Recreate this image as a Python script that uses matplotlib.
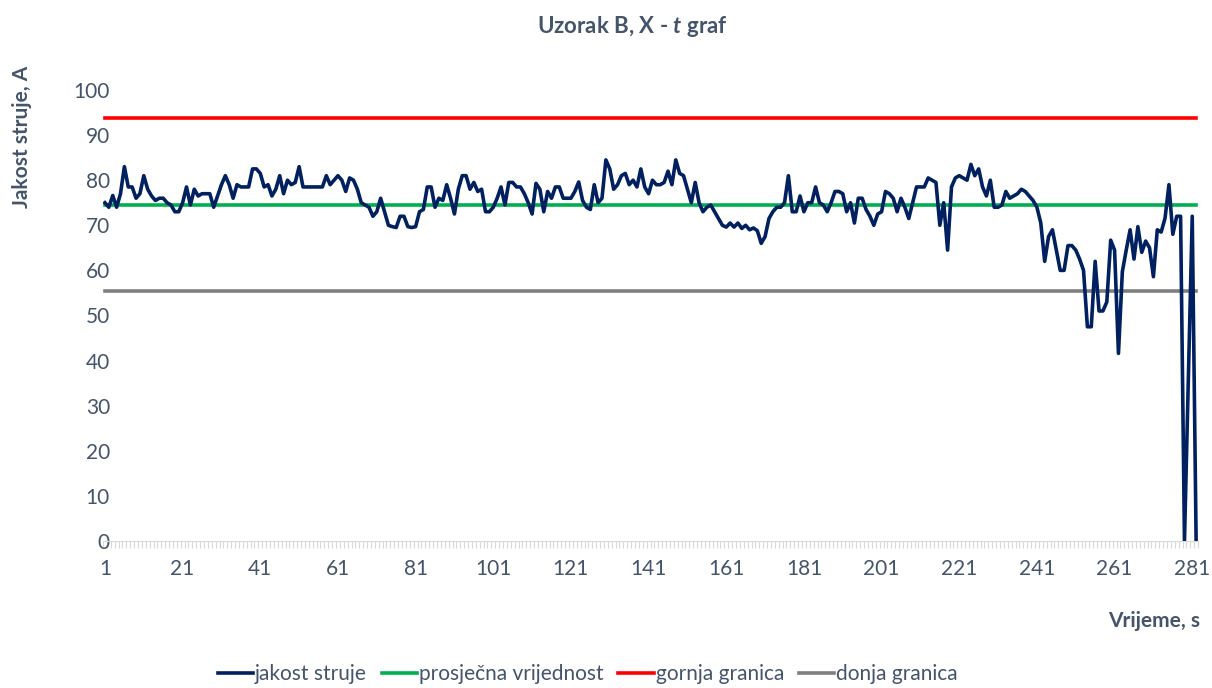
import matplotlib
matplotlib.use("Agg")
import matplotlib.pyplot as plt
from matplotlib.ticker import FixedLocator

# --- podaci ---
jakost_struje = [
    75, 74, 76.6, 74, 77, 83, 78.5, 78.5, 76, 77, 81, 78, 76.5, 75.5, 76, 76, 75, 74.5, 73, 73,
    75, 78.5, 74.5, 78, 76.5, 77, 77, 77, 74, 76.5, 79, 81, 79, 76, 79, 78.5, 78.5, 78.5, 82.5, 82.5,
    81.5, 78.5, 79, 76.5, 78, 81, 77, 80, 79, 79.5, 83, 78.5, 78.5, 78.5, 78.5, 78.5, 78.5, 81, 79, 80,
    81, 80, 77.5, 80.5, 80, 78, 75, 74.5, 74, 72, 73, 76, 73, 70, 69.7, 69.5, 72, 72, 69.7, 69.5,
    69.7, 73, 73.5, 78.5, 78.5, 74, 76, 75.5, 79, 76, 72.5, 78, 81, 81, 78, 79.5, 77.5, 78, 73, 73,
    74, 76, 78.5, 74.5, 79.5, 79.5, 78.5, 78.5, 77, 75, 72.5, 79.3, 78, 73, 77.5, 76, 78.5, 78.5, 76, 76,
    76, 77.5, 79.6, 75.5, 74, 73.5, 79, 75, 76, 84.5, 82.5, 78, 79, 81, 81.5, 79, 80, 78.5, 82.5, 78.5,
    77, 80, 79, 79, 79.5, 82, 79, 84.5, 81.5, 81, 78, 75, 79.5, 75, 73, 74, 74.5, 73, 71.5, 70,
    69.6, 70.5, 69.6, 70.5, 69.3, 70, 69, 69.4, 68.8, 66, 67.5, 71.5, 73, 74, 74, 75, 81, 73, 73, 76.5,
    73, 75, 75, 78.5, 75, 74.5, 73, 75, 77.5, 77.5, 77, 73, 75, 70.5, 76, 76, 73.5, 72, 70, 72.5,
    73, 77.5, 77, 76, 73, 76, 74, 71.5, 75, 78.5, 78.5, 78.5, 80.5, 80, 79.5, 70, 75, 64.5, 78.5, 80.5,
    81, 80.5, 80, 83.5, 81, 82.5, 78.5, 76.5, 80, 74, 74, 74.5, 77.5, 76, 76.5, 77, 78, 77.5, 76.5, 75.5,
    74, 70.5, 62, 67.5, 69, 64.5, 60, 60, 65.5, 65.5, 64.5, 62.5, 60, 47.5, 47.5, 62, 51, 51, 53, 66.7,
    64.5, 41.6, 59.7, 64.5, 69, 62.5, 69.7, 64, 66.5, 65, 58.6, 69, 68.5, 71.6, 79, 68, 72, 72, 0, 36,
    72, 0,
]
prosjek = 74.6
gornja_granica = 93.7
donja_granica = 55.5
vrijeme = list(range(1, len(jakost_struje) + 1))
y_ticks = list(range(0, 101, 10))
x_labels = list(range(1, len(jakost_struje) + 1, 20))

txt = "#44546A"
plt.rcParams["font.family"] = ["Lato", "DejaVu Sans"]
plt.rcParams["mathtext.fontset"] = "custom"
plt.rcParams["mathtext.it"] = "Lato:italic:bold"

fig = plt.figure(figsize=(12.12, 6.88), dpi=100)
ax = fig.add_axes([0.085, 0.2137, 0.9035, 0.6555])

n = len(vrijeme)
ax.plot(vrijeme, jakost_struje, color="#002060", lw=2.6, label="jakost struje", zorder=4)
ax.plot(vrijeme, [prosjek] * n, color="#00B050", lw=2.6, label="prosječna vrijednost", zorder=3)
ax.plot(vrijeme, [gornja_granica] * n, color="#FF0000", lw=2.6, label="gornja granica", zorder=3)
ax.plot(vrijeme, [donja_granica] * n, color="#7F7F7F", lw=2.6, label="donja granica", zorder=3)

ax.set_xlim(0.5, n + 0.5)
ax.set_ylim(0, 100)
ax.set_yticks(y_ticks)
ax.set_xticks(x_labels)
ax.xaxis.set_minor_locator(FixedLocator([i + 0.5 for i in range(0, n + 1)]))

for s in ["top", "right", "left"]:
    ax.spines[s].set_visible(False)
ax.spines["bottom"].set_color("#D9D9D9")
ax.tick_params(axis="y", length=0, labelsize=15, labelcolor=txt, pad=-5)
ax.tick_params(axis="x", which="major", length=0, labelsize=15, labelcolor=txt, pad=13)
ax.tick_params(axis="x", which="minor", length=5, color="#D9D9D9", width=0.8)

fig.text(0.522, 0.962, r"Uzorak B, X - $\mathit{t}$ graf", ha="center", va="center",
         fontsize=16, fontweight="bold", color=txt)
fig.text(0.018, 0.905, "Jakost struje, A", rotation=90, ha="center", va="top",
         fontsize=15, fontweight="bold", color=txt)
fig.text(0.99, 0.098, "Vrijeme, s", ha="right", va="center",
         fontsize=15, fontweight="bold", color=txt)

leg = fig.legend(loc="lower center", bbox_to_anchor=(0.485, -0.022), ncol=4, frameon=False,
                 fontsize=15, handlelength=1.7, handletextpad=0.1, columnspacing=0.7)
for t in leg.get_texts():
    t.set_color(txt)

fig.savefig("out.png", dpi=100)
